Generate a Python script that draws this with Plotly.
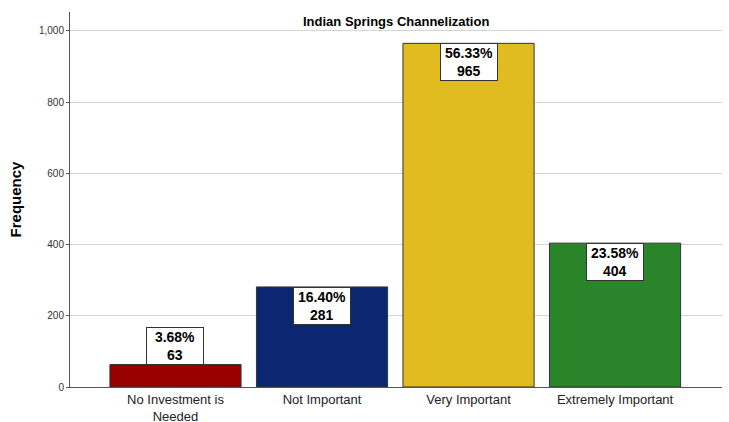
import plotly.graph_objects as go

categories = ["No Investment is<br>Needed", "Not Important", "Very Important", "Extremely Important"]
counts = [63, 281, 965, 404]
percents = [3.68, 16.40, 56.33, 23.58]
colors = ["#990000", "#0b2771", "#e0bc20", "#2a852a"]

fig = go.Figure(go.Bar(
    x=categories, y=counts,
    marker=dict(color=colors, line=dict(color="#333333", width=1)),
    width=0.895,
    hoverinfo="skip",
))

# value boxes: inside the top of the bar, or above it when the bar is short
for cat, n, p in zip(categories, counts, percents):
    inside = n > 150
    fig.add_annotation(
        x=cat, y=n, text=f"<b>{p:.2f}%<br>{n}</b>",
        showarrow=False, yanchor="top" if inside else "bottom",
        font=dict(family="Arial", size=14, color="black"),
        bgcolor="white", bordercolor="#333333", borderwidth=1, borderpad=1,
        width=54,
    )

fig.add_annotation(
    x=0.5, xref="paper", y=1.0, yref="paper", yanchor="top",
    text="<b>Indian Springs Channelization</b>", showarrow=False,
    font=dict(family="Arial", size=13, color="black"),
)

fig.update_layout(
    width=729, height=422,
    margin=dict(l=70, r=7, t=12, b=35),
    paper_bgcolor="white", plot_bgcolor="white",
    font=dict(family="Arial", color="#222222"),
    showlegend=False,
    xaxis=dict(
        range=[-0.72, 3.73], showgrid=False, automargin=False,
        showline=True, linecolor="#555555", linewidth=1,
        tickfont=dict(size=13, color="#222222"), ticks="",
    ),
    yaxis=dict(
        range=[0, 1053], tickvals=[0, 200, 400, 600, 800, 1000],
        ticktext=["0", "200", "400", "600", "800", "1,000"],
        showgrid=True, gridcolor="#d4d4d4", gridwidth=1, automargin=False,
        showline=True, linecolor="#555555", linewidth=1,
        ticks="outside", ticklen=3, tickcolor="#555555",
        tickfont=dict(size=10, color="#333333"),
        title=dict(text="<b>Frequency</b>", font=dict(size=15, color="black"), standoff=13),
        zeroline=False,
    ),
)

# drop the default 8px page margin so the figure fills the window
fig.write_html(
    "out.html",
    config={"displayModeBar": False},
    post_script="document.body.style.margin = '0';",
)
